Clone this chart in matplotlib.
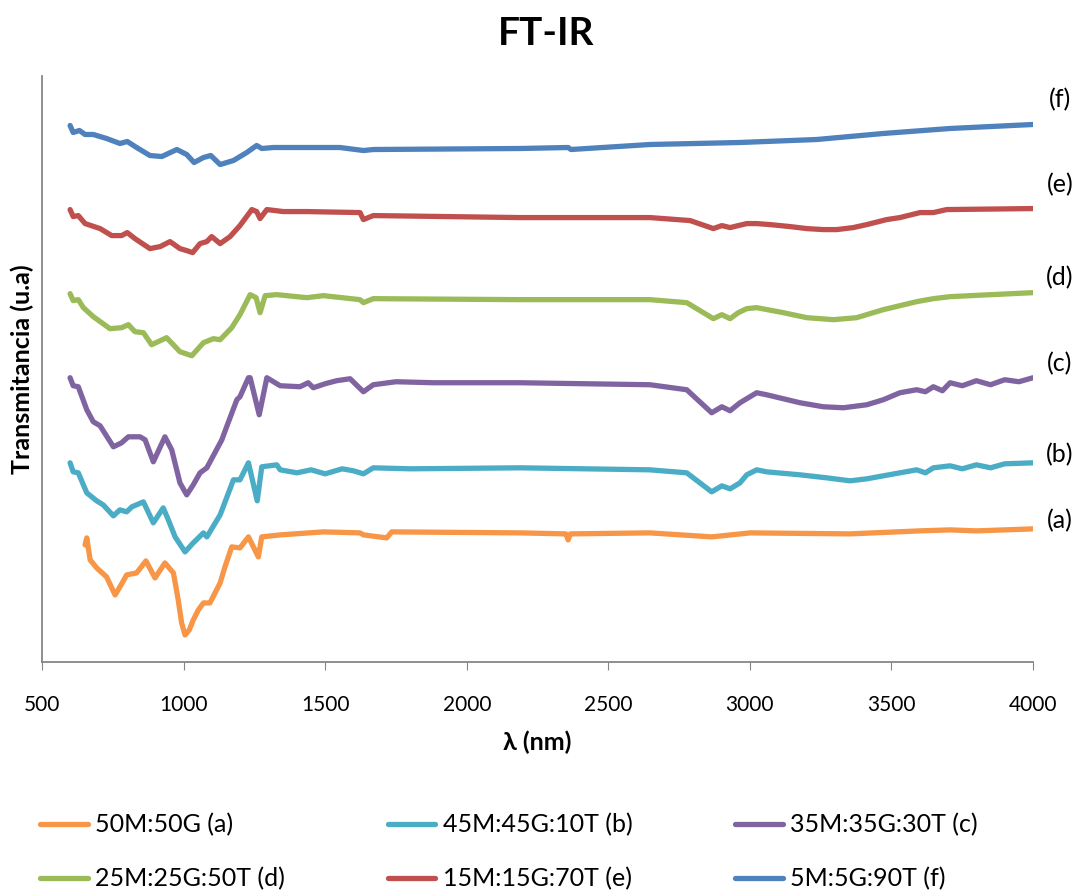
import matplotlib
matplotlib.use("Agg")
import matplotlib.pyplot as plt
import numpy as np

plt.rcParams['font.family'] = ['Lato', 'DejaVu Sans']

# espectros FT-IR (x en nm, transmitancia en unidades arbitrarias, ya desplazada)
x_a = [652, 658, 670, 693, 728, 758, 775, 799, 834, 867, 899, 934, 964, 981, 993,
       1005, 1020, 1034, 1052, 1070, 1093, 1129, 1146, 1170, 1199, 1229, 1264, 1276,
       1341, 1494, 1623, 1635, 1717, 1735, 2188, 2350, 2358, 2366, 2647, 2865, 3001,
       3354, 3600, 3707, 3800, 4000]
y_a = [117, 124, 102, 94, 85, 67, 75, 87, 89, 101, 84, 99, 89, 62, 39,
       27, 32, 42, 52, 59, 59, 79, 95, 115, 114, 125, 105, 125,
       127, 130, 129, 127, 124, 130, 129, 128, 122, 128, 129, 125, 129,
       128, 131, 132, 131, 133]

x_b = [599, 610, 628, 658, 693, 716, 752, 775, 799, 817, 858, 893, 928, 946, 970,
       1005, 1034, 1070, 1082, 1129, 1176, 1199, 1229, 1260, 1276, 1329, 1341, 1400,
       1450, 1500, 1560, 1600, 1635, 1670, 1800, 2188, 2647, 2777, 2865, 2901, 2930,
       2965, 2989, 3024, 3059, 3177, 3271, 3354, 3413, 3471, 3530, 3589, 3620, 3648,
       3707, 3750, 3800, 3850, 3900, 4000]
y_b = [199, 190, 189, 169, 161, 157, 146, 152, 150, 155, 160, 139, 154, 142, 125,
       110, 119, 129, 125, 147, 182, 182, 199, 161, 195, 197, 192, 189,
       192, 188, 193, 191, 188, 194, 193, 194, 192, 189, 170, 176, 173,
       179, 187, 192, 190, 187, 184, 181, 183, 186, 189, 192, 189, 194,
       196, 193, 197, 194, 198, 199]

x_c = [599, 610, 628, 658, 681, 705, 752, 781, 805, 846, 864, 893, 934, 958, 987,
       1011, 1034, 1058, 1082, 1135, 1152, 1188, 1199, 1229, 1235, 1267, 1294, 1341,
       1411, 1440, 1458, 1500, 1540, 1588, 1635, 1670, 1750, 1882, 2188, 2647, 2777,
       2865, 2901, 2930, 2965, 3024, 3059, 3118, 3177, 3259, 3330, 3413, 3471, 3530,
       3589, 3620, 3648, 3680, 3707, 3750, 3800, 3850, 3900, 3950, 4000]
y_c = [284, 276, 275, 252, 240, 236, 215, 219, 225, 225, 222, 200, 225, 212, 179,
       167, 177, 189, 194, 222, 235, 262, 265, 284, 284, 247, 284, 276,
       275, 279, 274, 278, 281, 283, 270, 277, 280, 279, 279, 277, 272,
       249, 255, 251, 259, 269, 267, 263, 259, 255, 254, 257, 262, 269,
       272, 270, 275, 271, 279, 276, 281, 277, 282, 280, 284]

x_d = [599, 610, 628, 646, 681, 740, 781, 805, 828, 858, 887, 940, 987, 1029, 1070,
       1105, 1129, 1170, 1199, 1235, 1256, 1270, 1288, 1329, 1435, 1494, 1623, 1635,
       1670, 2188, 2647, 2777, 2871, 2901, 2930, 2959, 2989, 3024, 3118, 3201, 3295,
       3377, 3471, 3530, 3589, 3648, 3707, 4000]
y_d = [368, 361, 362, 354, 345, 333, 334, 337, 330, 329, 317, 324, 310, 306, 319,
       323, 322, 334, 347, 367, 364, 349, 366, 367, 364, 366, 362, 359,
       363, 362, 362, 359, 343, 347, 343, 349, 353, 354, 349, 344, 342,
       344, 352, 356, 360, 363, 365, 369]

x_e = [599, 610, 628, 652, 705, 746, 781, 801, 828, 881, 917, 952, 987, 1011, 1032,
       1058, 1082, 1099, 1129, 1164, 1199, 1241, 1258, 1270, 1294, 1352, 1435, 1623,
       1635, 1670, 2188, 2647, 2789, 2871, 2901, 2930, 2959, 2989, 3024, 3071, 3142,
       3201, 3259, 3307, 3365, 3413, 3483, 3530, 3601, 3648, 3695, 4000]
y_e = [452, 445, 446, 438, 433, 426, 426, 429, 423, 413, 415, 420, 413, 411, 409,
       418, 420, 425, 418, 425, 436, 452, 450, 443, 452, 450, 450, 449,
       442, 446, 444, 444, 441, 433, 436, 434, 436, 438, 438, 437, 435,
       433, 432, 432, 434, 437, 442, 444, 449, 449, 452, 453]

x_f = [599, 610, 632, 652, 681, 728, 775, 801, 834, 881, 923, 976, 1011, 1037, 1070,
       1096, 1129, 1176, 1223, 1258, 1276, 1317, 1435, 1552, 1635, 1670, 2188, 2358,
       2368, 2647, 2965, 3236, 3471, 3707, 4000]
y_f = [536, 529, 531, 527, 527, 523, 518, 520, 514, 506, 505, 512, 507, 499, 504,
       506, 497, 501, 509, 516, 513, 514, 514, 514, 511, 512, 513, 514,
       512, 517, 519, 522, 528, 533, 537]

etiquetas = ['50M:50G (a)', '45M:45G:10T (b)', '35M:35G:30T (c)',
             '25M:25G:50T (d)', '15M:15G:70T (e)', '5M:5G:90T (f)']
letras = ['(a)', '(b)', '(c)', '(d)', '(e)', '(f)']
pos_letras = [141, 207, 298, 384, 477, 562]
colores = ['#F79646', '#4BACC6', '#8064A2', '#9BBB59', '#C0504D', '#4F81BD']

series = [(x_a, y_a), (x_b, y_b), (x_c, y_c), (x_d, y_d), (x_e, y_e), (x_f, y_f)]

fig = plt.figure(figsize=(10.92, 8.94), dpi=100)
ax = fig.add_axes([0.0385, 0.2595, 0.9075, 0.655])

lineas = []
for (xs, ys), lab, col in zip(series, etiquetas, colores):
    l, = ax.plot(xs, ys, color=col, lw=3.8, label=lab,
                 solid_joinstyle='round', solid_capstyle='round')
    lineas.append(l)

for let, yp in zip(letras, pos_letras):
    ax.text(1.027, yp, let, transform=ax.get_yaxis_transform(),
            ha='center', va='center', fontsize=18, clip_on=False)

ax.set_xlim(500, 4000)
ax.set_ylim(0, 585)
ax.set_xticks(np.arange(500, 4001, 500))
ax.set_yticks([])
ax.tick_params(axis='x', direction='out', length=6, color='#868686',
               labelsize=15, pad=18)
for s in ['top', 'right']:
    ax.spines[s].set_visible(False)
for s in ['left', 'bottom']:
    ax.spines[s].set_color('#868686')
    ax.spines[s].set_linewidth(1.3)

ax.set_xlabel('λ (nm)', fontsize=18, fontweight='bold', labelpad=11)
ax.set_ylabel('Transmitancia (u.a)', fontsize=18, fontweight='bold', labelpad=6)
fig.text(0.5, 0.963, 'FT-IR', ha='center', va='center', fontsize=28, fontweight='bold')

# la leyenda se llena por columnas; reordenar para que se lea por filas
orden = [0, 3, 1, 4, 2, 5]
fig.legend([lineas[i] for i in orden], [etiquetas[i] for i in orden],
           ncol=3, loc='center left', bbox_to_anchor=(0.0164, 0.047),
           frameon=False, fontsize=18, handlelength=1.9, handletextpad=0.3,
           columnspacing=4.1, labelspacing=1.24)

fig.savefig('out.png', dpi=100)
